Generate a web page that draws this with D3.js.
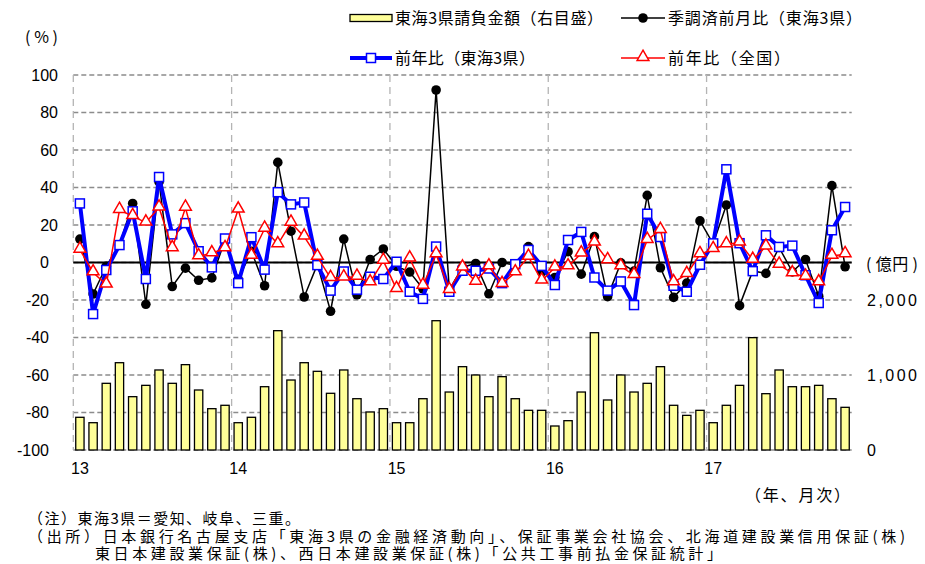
<!DOCTYPE html>
<html>
<head>
<meta charset="utf-8">
<script src="https://cdn.jsdelivr.net/npm/d3@7/dist/d3.min.js"></script>
<style>
  html, body { margin: 0; padding: 0; background: #fff; }
  svg { display: block; }
  text { font-family: "Noto Sans CJK JP", "Noto Sans", sans-serif; fill: #000; }
  .num { font-family: "Liberation Sans", Arial, sans-serif; }
</style>
</head>
<body>
<svg id="chart" width="925" height="564"></svg>
<script>
// Year labels (2013-2017), monthly series Jan 2013 - Nov 2017
const years = ["13", "14", "15", "16", "17"];

// 東海3県請負金額 (億円)
const contractAmount = [
  436, 364, 889, 1164, 711, 862, 1067, 889, 1138, 800, 551, 596,
  364, 436, 844, 1591, 933, 1164, 1049, 756, 1067, 684, 507, 551,
  364, 364, 684, 1724, 773, 1111, 1000, 711, 978, 684, 529, 529,
  320, 391, 773, 1564, 667, 1000, 773, 889, 1111, 596, 462, 529,
  364, 596, 862, 1498, 751, 1067, 844, 844, 862, 684, 569
];

// 季調済前月比 (東海3県), %
const momSA = [
  12.5, -16.8, -2, 9.5, 31.5, -22.3, 43, -12.8, -3, -9.5, -8.2, 12,
  -9, 6, -12.4, 53.4, 16.7, -18.4, -1, -26, 12.5, -17.2, 1.6, 7.2,
  -2, -5.1, -14, 92, -14.6, -2.5, -0.5, -16.7, 0, -1.5, 8.5, -5,
  -8, 5.8, -6.2, 13.8, -18.2, -0.2, -4.6, 35.8, -2.8, -18.6, -11, 22.2,
  10, 30.7, -23, -4.5, -5.8, 8, -5, 1.6, -18, 41, -2.3
];

// 前年比 (東海3県), %
const yoyTokai = [
  31.5, -27.5, -4, 9.3, 27.3, -8.8, 45.6, 15, 21, 6, -2.6, 12.8,
  -11, 13.5, -3.8, 37.5, 31, 32, -1.4, -15, -4.8, -14.5, -7.6, -8.8,
  0.4, -15.6, -19.4, 8.5, -15.6, -4.4, -4.4, -3.2, -11, -0.9, 6.7, -1.8,
  -12, 12, 16.3, -8, -15, -10.1, -22.7, 26, 13.6, -12.4, -15.6, -1.2,
  10.2, 49.7, 10.3, -4.6, 14.5, 8.3, 9, -6.8, -21.6, 17.2, 29.6
];

// 前年比 (全国), %
const yoyNational = [
  6.8, -5.3, -11.8, 28, 24.7, 21.3, 29.3, 7.6, 29.2, 3.3, 4.9, 7.6,
  28.2, 3.5, 18, 9.7, 21.2, 13.8, 3, -8.3, -8, -7.6, -10.6, 0.9,
  -14.2, 2.1, -12.4, 4.4, -14.7, -2.7, -10.3, -2.1, -11.5, -5.3, 3, -9.7,
  -2.7, -2.1, 4.8, 10.6, 1.2, -2.1, -6.7, 12, 17.3, -10.6, -6.2, 4.4,
  7.1, 9.7, 10.6, 1.4, 8.5, -1.2, -5.8, -7.6, -10.6, 3.5, 4.4
];

const leftTicks = [100, 80, 60, 40, 20, 0, -20, -40, -60, -80, -100];
const rightTicks = [0, 1000, 2000];

const svg = d3.select("#chart");
const plot = { left: 73.3, right: 851.7, top: 75, bottom: 450 };

const idx = d3.range(contractAmount.length);
const x = d3.scaleBand().domain(idx).range([plot.left, plot.right]).paddingInner(0.37).paddingOuter(0.185);
const xStep = x.step();
const xc = i => x(i) + x.bandwidth() / 2;
const yearStart = k => plot.left + k * 12 * xStep;
const y = d3.scaleLinear().domain([-100, 100]).range([plot.bottom, plot.top]);
const y2 = d3.scaleLinear().domain([0, 5000]).range([plot.bottom, plot.top]);

// grid
const grid = svg.append("g");
grid.selectAll("line.h").data(leftTicks).join("line")
  .attr("x1", plot.left).attr("x2", plot.right)
  .attr("y1", d => y(d)).attr("y2", d => y(d))
  .attr("stroke", "#8c8c8c").attr("stroke-width", 1.3).attr("stroke-dasharray", "5,3");
grid.selectAll("line.v").data(years).join("line")
  .attr("x1", (d, k) => yearStart(k)).attr("x2", (d, k) => yearStart(k))
  .attr("y1", plot.top).attr("y2", plot.bottom)
  .attr("stroke", "#b4b4b4").attr("stroke-width", 1.3).attr("stroke-dasharray", "7,5");

// bars (right axis)
svg.append("g").selectAll("rect").data(contractAmount).join("rect")
  .attr("x", (d, i) => x(i)).attr("width", x.bandwidth())
  .attr("y", d => y2(d)).attr("height", d => y2(0) - y2(d))
  .attr("fill", "#ffff99").attr("stroke", "#000").attr("stroke-width", 1.3);

// zero line
svg.append("line").attr("x1", plot.left).attr("x2", plot.right)
  .attr("y1", y(0)).attr("y2", y(0)).attr("stroke", "#000").attr("stroke-width", 2);

const line = d3.line().x((d, i) => xc(i)).y(d => y(d));

// 季調済前月比
svg.append("path").datum(momSA).attr("d", line).attr("fill", "none")
  .attr("stroke", "#000").attr("stroke-width", 1.5);
svg.append("g").selectAll("circle").data(momSA).join("circle")
  .attr("cx", (d, i) => xc(i)).attr("cy", d => y(d)).attr("r", 4.8).attr("fill", "#000");

// 前年比 (東海3県)
svg.append("path").datum(yoyTokai).attr("d", line).attr("fill", "none")
  .attr("stroke", "#0000ff").attr("stroke-width", 4).attr("stroke-linejoin", "round");
svg.append("g").selectAll("rect").data(yoyTokai).join("rect")
  .attr("x", (d, i) => xc(i) - 4.5).attr("y", d => y(d) - 4.5)
  .attr("width", 9).attr("height", 9)
  .attr("fill", "#fff").attr("stroke", "#0000ff").attr("stroke-width", 1.5);

// 前年比 (全国)
const tri = d3.symbol().type(d3.symbolTriangle).size(60);
svg.append("path").datum(yoyNational).attr("d", line).attr("fill", "none")
  .attr("stroke", "#ff0000").attr("stroke-width", 1.5);
svg.append("g").selectAll("path").data(yoyNational).join("path")
  .attr("d", tri).attr("transform", (d, i) => `translate(${xc(i)},${y(d) - 1})`)
  .attr("fill", "#fff").attr("stroke", "#ff0000").attr("stroke-width", 1.5);

// left axis labels (zero and negatives sit a little further left)
svg.append("g").selectAll("text").data(leftTicks).join("text")
  .attr("class", "num")
  .attr("x", d => d > 0 ? 58 : 49).attr("y", d => y(d)).attr("dy", "0.35em")
  .attr("text-anchor", "end").attr("font-size", 16)
  .text(d => d);

// right axis labels
svg.append("g").selectAll("text").data(rightTicks).join("text")
  .attr("class", "num")
  .attr("x", 867).attr("y", d => y2(d)).attr("dy", "0.35em")
  .attr("font-size", 16)
  .each(function (d) {
    const t = d3.select(this).text(d3.format(",")(d));
    if (d >= 1000) t.attr("textLength", 50).attr("lengthAdjust", "spacing");
  });

// helper for text blocks with a fixed width
function label(g, xPos, yPos, str, len, size = 16) {
  const t = g.append("text").attr("x", xPos).attr("y", yPos).attr("dy", "0.35em")
    .attr("font-size", size).text(str);
  if (len) t.attr("textLength", len).attr("lengthAdjust", "spacing");
  return t;
}

label(svg, 866, 264, "( 億円 )", 52);
label(svg, 25, 37, "( % )", 33);

// x labels
svg.append("g").selectAll("text").data(years).join("text")
  .attr("class", "num")
  .attr("x", (d, k) => xc(k * 12)).attr("y", 468).attr("dy", "0.35em")
  .attr("text-anchor", "middle").attr("font-size", 16)
  .text(d => d);
label(svg, 745, 495, "（年、月次）", 105);

// legend
const lg = svg.append("g");
lg.append("rect").attr("x", 350).attr("y", 14.5).attr("width", 42).attr("height", 7)
  .attr("fill", "#ffff99").attr("stroke", "#000").attr("stroke-width", 1.3);
label(lg, 395, 18, "東海3県請負金額（右目盛）", 208);
lg.append("line").attr("x1", 621).attr("x2", 665).attr("y1", 18).attr("y2", 18)
  .attr("stroke", "#000").attr("stroke-width", 1.5);
lg.append("circle").attr("cx", 643).attr("cy", 18).attr("r", 4.8).attr("fill", "#000");
label(lg, 668, 18, "季調済前月比（東海3県）", 194);
lg.append("line").attr("x1", 350).attr("x2", 392).attr("y1", 58).attr("y2", 58)
  .attr("stroke", "#0000ff").attr("stroke-width", 4);
lg.append("rect").attr("x", 366.5).attr("y", 53.5).attr("width", 9).attr("height", 9)
  .attr("fill", "#fff").attr("stroke", "#0000ff").attr("stroke-width", 1.5);
label(lg, 395, 58, "前年比（東海3県）", 140);
lg.append("line").attr("x1", 621).attr("x2", 665).attr("y1", 58).attr("y2", 58)
  .attr("stroke", "#ff0000").attr("stroke-width", 1.5);
lg.append("path").attr("d", tri).attr("transform", "translate(643,57)")
  .attr("fill", "#fff").attr("stroke", "#ff0000").attr("stroke-width", 1.5);
label(lg, 668, 58, "前年比（全国）", 122);

// notes
const ng = svg.append("g");
label(ng, 28, 519, "（注）東海3県＝愛知、岐阜、三重。", 272, 15);
label(ng, 28, 537, "（出所）日本銀行名古屋支店「東海3県の金融経済動向」、保証事業会社協会、北海道建設業信用保証(株)", 877, 15);
label(ng, 95, 554, "東日本建設業保証(株)、西日本建設業保証(株)「公共工事前払金保証統計」", 627, 15);
</script>
</body>
</html>
